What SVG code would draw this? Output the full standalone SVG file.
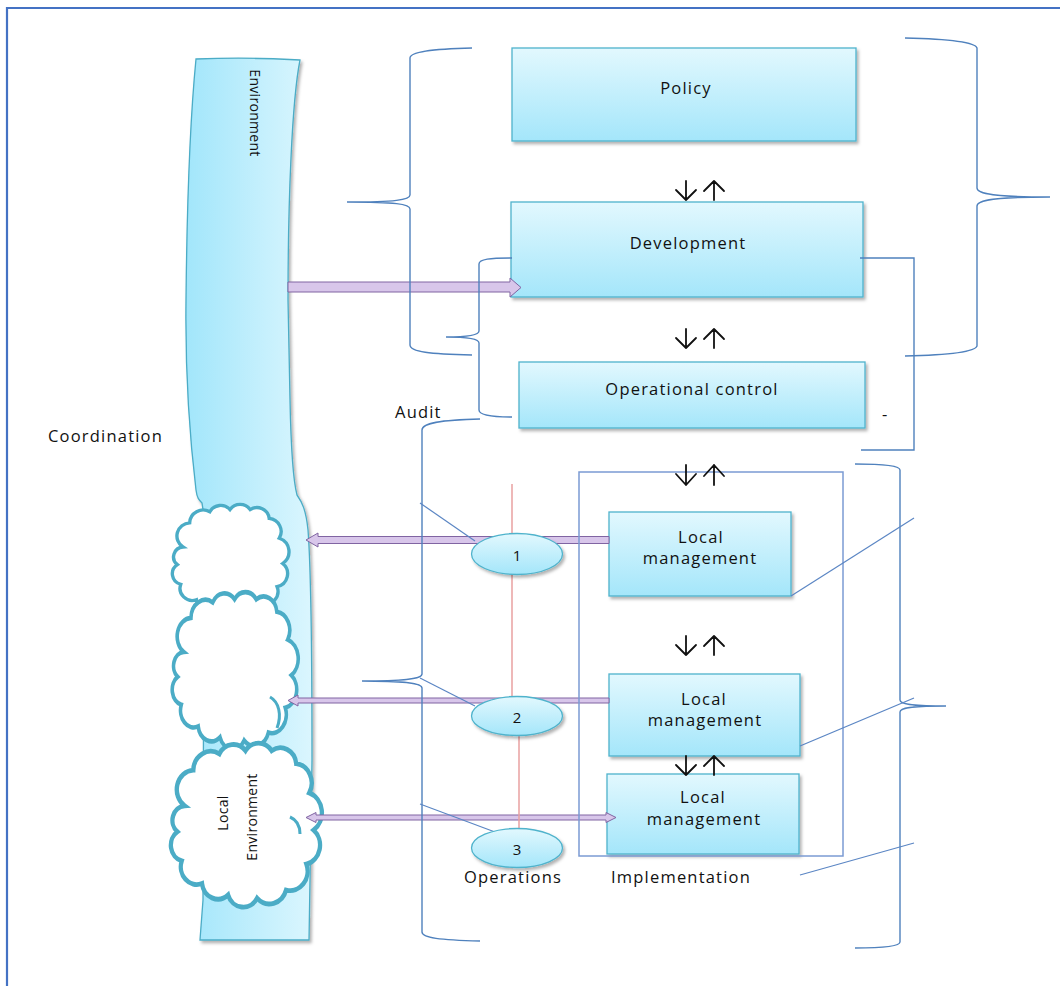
<svg xmlns="http://www.w3.org/2000/svg" width="1060" height="986" viewBox="0 0 1060 986">
<style>
.t{font-family:'Open Sans','Liberation Sans',sans-serif;font-size:16.5px;font-weight:500;fill:#111;letter-spacing:1.2px}
.tc{text-anchor:middle}
.num{font-family:'Open Sans','Liberation Sans',sans-serif;font-size:15px;font-weight:500;fill:#111;text-anchor:middle}
.sm{font-family:'Open Sans','Liberation Sans',sans-serif;font-size:14px;font-weight:500;fill:#111;letter-spacing:0.3px;text-anchor:middle;dominant-baseline:central}
.box{fill:url(#boxg);stroke:#4fb3cc;stroke-width:1.3;filter:url(#sh)}
.br{fill:none;stroke:#4f81bd;stroke-width:1.4}
.ln{fill:none;stroke:#5b86c4;stroke-width:1.2}
.pa{fill:#d8c6ea;stroke:#8064a2;stroke-width:1}
.cl{fill:#fff;stroke:#4bacc6;stroke-width:3;vector-effect:non-scaling-stroke}
.ud{fill:none;stroke:#111;stroke-width:1.8;stroke-linecap:round;stroke-linejoin:round}
</style>
<defs>
<linearGradient id="boxg" x1="0" y1="0" x2="0" y2="1"><stop offset="0" stop-color="#e2f8fe"/><stop offset="1" stop-color="#a4e6fa"/></linearGradient>
<linearGradient id="envg" x1="0" y1="0" x2="1" y2="0"><stop offset="0" stop-color="#a2e6fb"/><stop offset="1" stop-color="#dbf6fe"/></linearGradient>
<filter id="sh" x="-10%" y="-10%" width="130%" height="130%"><feDropShadow dx="2" dy="2.5" stdDeviation="1.5" flood-color="#000" flood-opacity="0.3"/></filter>
<path id="cloud" d="M8,40 A12,12 0 0 1 14,18 A12,12 0 0 1 32,8 A11,11 0 0 1 50,6 A11,11 0 0 1 68,6 A11,11 0 0 1 85,14 A12,12 0 0 1 94,32 A13,13 0 0 1 97,55 A12,12 0 0 1 92,76 A12,12 0 0 1 78,92 A12,12 0 0 1 58,97 A11,11 0 0 1 38,95 A11,11 0 0 1 20,88 A11,11 0 0 1 6,74 A10,10 0 0 1 3,56 A9,9 0 0 1 8,40 Z"/>
</defs>
<rect width="1060" height="986" fill="#fff"/>
<g id="frame"><path d="M7,986 V8 H1060" fill="none" stroke="#4472c4" stroke-width="2.2"/></g>

<g id="environment">
<path d="M196,59 Q250,57 300,60 C292,100 288,200 288,300 L290,400 C291,450 293,480 297,495 C302,502 306,510 308,530 C311,570 312,650 312,760 L309,940 L200,940 L203,900 L204,540 C204,520 203,508 202,503 C199,500 197,498 196,490 C190,440 185,380 186,300 C187,200 190,120 196,59 Z" fill="url(#envg)" stroke="#4bacc6" stroke-width="1.3" filter="url(#sh)"/>
<text class="sm" transform="translate(255,113) rotate(90)">Environment</text>
</g>

<g id="clouds">
<use href="#cloud" class="cl" transform="translate(174,503) scale(1.12,1.1)"/>
<use href="#cloud" class="cl" transform="translate(174,590) scale(1.21,1.55)"/>
<path d="M270,697 C279,702 282,715 277,728" fill="none" stroke="#4bacc6" stroke-width="3"/>
<use href="#cloud" class="cl" transform="translate(173,741) scale(1.45,1.62)"/>
<path d="M290,817 C297,820 300,827 300,834" fill="none" stroke="#4bacc6" stroke-width="3"/>
<text class="sm" transform="translate(222,813) rotate(-90)">Local</text>
<text class="sm" transform="translate(251,817) rotate(-90)">Environment</text>
</g>

<g id="policy"><rect x="512" y="48" width="344" height="93" class="box"/><text class="t tc" x="686" y="94">Policy</text></g>
<g id="development"><rect x="511" y="202" width="352" height="95" class="box"/><text class="t tc" x="688" y="249">Development</text></g>
<g id="operational"><rect x="519" y="362" width="346" height="66" class="box"/><text class="t tc" x="692" y="395">Operational control</text></g>
<g id="local1"><rect x="609" y="512" width="182" height="84" class="box"/><text class="t tc" x="701" y="543">Local</text><text class="t tc" x="700" y="564">management</text></g>
<g id="local2"><rect x="609" y="674" width="191" height="82" class="box"/><text class="t tc" x="704" y="705">Local</text><text class="t tc" x="705" y="726">management</text></g>
<g id="local3"><rect x="607" y="774" width="192" height="80" class="box"/><text class="t tc" x="703" y="803">Local</text><text class="t tc" x="704" y="825">management</text></g>

<g id="connectors">
<polygon class="pa" points="288,282 510,282 510,278 521,287.5 510,297 510,292 288,292"/>
<polygon class="pa" points="609,536.5 318,536.5 318,533 306,540 318,547 318,543.5 609,543.5"/>
<polygon class="pa" points="609,698 298,698 298,695 288,700.5 298,706 298,703 609,703"/>
<polygon class="pa" points="316,815 606,815 606,812.5 616,817.5 606,822.5 606,820 316,820 316,822.5 306,817.5 316,812.5"/>
<path d="M512,484 V700" stroke="#e8a0a0" stroke-width="1.5"/>
<path d="M519,730 V830" stroke="#e8a0a0" stroke-width="1.5"/>
<path class="br" d="M472,48 C430,49 410,52 410,58 L410,195 C410,200 395,202 347,202 C395,202 410,204 410,209 L410,345 C410,352 430,354 472,355"/>
<path class="br" d="M512,258 C490,258 479,259 479,264 L479,331 C479,335 470,337 446,337 C470,337 479,339 479,343 L479,410 C479,415 490,417 512,417"/>
<path class="br" d="M480,419 C440,420 422,423 422,430 L422,674 C422,679 405,681 362,681 C405,681 422,683 422,688 L422,932 C422,938 440,940 480,941"/>
<path class="br" d="M905,38 C950,39 975,42 977,48 L977,188 C977,194 995,197 1050,197 C995,197 977,200 977,206 L977,346 C975,352 950,355 905,356"/>
<path class="br" d="M855,464 C885,464 900,466 900,470 L900,700 C900,704 910,706 946,706 C910,706 900,708 900,712 L900,942 C900,946 885,948 855,948"/>
<path class="br" d="M860,258 H914 V450 H861"/>
<rect x="579" y="472" width="264" height="384" fill="none" stroke="#7b9bd3" stroke-width="1.5"/>
<path class="ln" d="M791,596 L914,518"/>
<path class="ln" d="M800,746 L914,698"/>
<path class="ln" d="M800,875 L914,843"/>
<path class="ln" d="M420,503 L475,541"/>
<path class="ln" d="M420,678 L475,706"/>
<path class="ln" d="M420,804 L503,835"/>
<g id="updown">
<path class="ud" d="M686,181 V200 M676,190 L686,200 L696,190 M714,200 V181 M704,191 L714,181 L724,191"/>
<path class="ud" d="M686,329 V348 M676,338 L686,348 L696,338 M714,348 V329 M704,339 L714,329 L724,339"/>
<path class="ud" d="M686,465 V485 M676,474 L686,485 L696,474 M714,485 V465 M704,476 L714,465 L724,476"/>
<path class="ud" d="M686,636 V655 M676,645 L686,655 L696,645 M714,655 V636 M704,646 L714,636 L724,646"/>
<path class="ud" d="M686,756 V775 M676,765 L686,775 L696,765 M714,775 V756 M704,766 L714,756 L724,766"/>
</g>
</g>

<g id="ellipse1"><ellipse cx="517" cy="554" rx="45.5" ry="20.5" class="box"/><text class="num" x="517" y="561">1</text></g>
<g id="ellipse2"><ellipse cx="517" cy="716" rx="45.5" ry="19.5" class="box"/><text class="num" x="517" y="723">2</text></g>
<g id="ellipse3"><ellipse cx="517" cy="848" rx="45.5" ry="19.5" class="box"/><text class="num" x="517" y="855">3</text></g>

<g id="labels">
<text class="t" x="48" y="442">Coordination</text>
<text class="t" x="395" y="418">Audit</text>
<text class="t" x="464" y="883">Operations</text>
<text class="t" x="611" y="883">Implementation</text>
<text class="t" x="882" y="420">-</text>
</g>
</svg>
